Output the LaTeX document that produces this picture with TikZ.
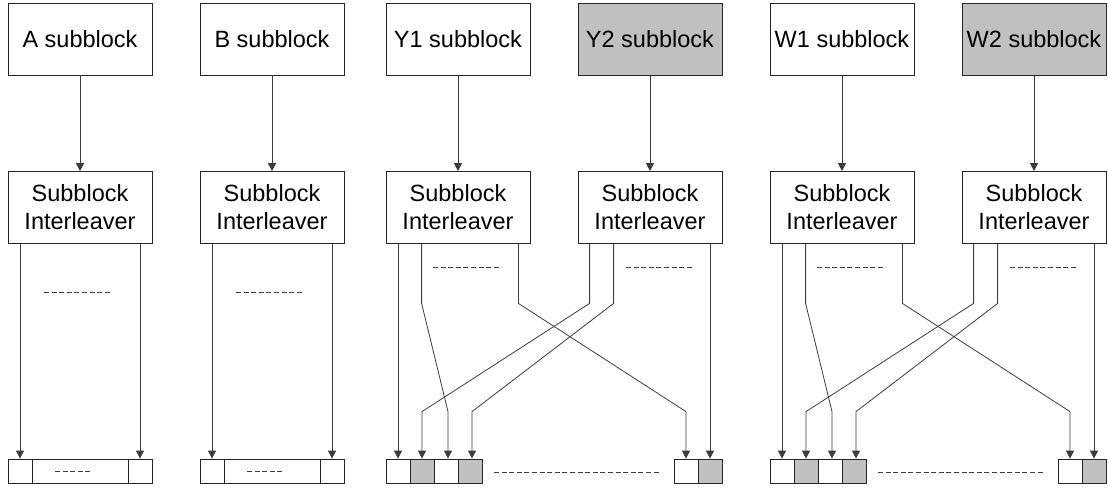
\documentclass[tikz,border=0pt]{standalone}
\usepackage{fontspec}
\setmainfont{Liberation Sans}
\usetikzlibrary{arrows.meta,calc}
\definecolor{cellgray}{RGB}{192,192,192}
\definecolor{wirecol}{RGB}{60,60,60}
\begin{document}
\begin{tikzpicture}[x=1pt,y=-1pt,
  box/.style={draw=black!85, line width=0.8pt, minimum width=144pt, minimum height=72pt,
              inner sep=0pt, align=center, font=\fontsize{23.5}{28}\selectfont},
  cell/.style={draw=black!85, line width=0.8pt, minimum width=24pt, minimum height=24pt, inner sep=0pt},
  gcell/.style={cell, fill=cellgray},
  wide/.style={cell, minimum width=96pt},
  wire/.style={draw=wirecol, line width=0.8pt, -{Triangle[width=8pt,length=8pt]}},
  dots/.style={draw=wirecol, line width=0.9pt, dash pattern=on 5pt off 2.6pt}
]
\useasboundingbox (0,0) rectangle (1108,488);

% ---- A and B paths: one interleaver each, plain output row
\foreach \g/\cx in {A/80,B/272} {
  \node[box] (\g top) at (\cx,39) {\g\ subblock};
  \node[box] (\g int) at (\cx,207.5) {Subblock\\Interleaver};
  \node[cell] (\g l) at (\cx-60,471) {};
  \node[wide] (\g m) at (\cx,471) {};
  \node[cell] (\g r) at (\cx+60,471) {};
  \draw[wire] (\g top) -- (\g int);
  \draw[wire] (\g int.south -| \g l.north) -- (\g l.north);
  \draw[wire] (\g int.south -| \g r.north) -- (\g r.north);
  \draw[dots] (\cx-36,292) -- (\cx+32,292);
  \draw[dots] (\cx-25,471) -- (\cx+12,471);
}

% ---- Y and W paths: two interleavers whose outputs are interlaced
\foreach \g/\ox in {Y/0,W/384} {
  \begin{scope}[xshift=\ox]
    \node[box] (\g1top) at (458,39) {\g1 subblock};
    \node[box, fill=cellgray] (\g2top) at (650,39) {\g2 subblock};
    \node[box] (\g1int) at (458,207.5) {Subblock\\Interleaver};
    \node[box] (\g2int) at (650,207.5) {Subblock\\Interleaver};

    \node[cell]  (\g c1) at (398,471) {};
    \node[gcell] (\g c2) at (422,471) {};
    \node[cell]  (\g c3) at (446,471) {};
    \node[gcell] (\g c4) at (470,471) {};
    \node[cell]  (\g c5) at (686,471) {};
    \node[gcell] (\g c6) at (710,471) {};

    \draw[wire] (\g1top) -- (\g1int);
    \draw[wire] (\g2top) -- (\g2int);

    % first interleaver outputs
    \draw[wire] (\g1int.south -| \g c1.north) -- (\g c1.north);
    \draw[wire] ($(\g1int.south west)+(36,0)$) -- ++(0,59.5)
                -- ($(\g c3.north)+(2,-47)$) -- ($(\g c3.north)+(2,0)$);
    \draw[wire] ($(\g1int.south east)+(-12,0)$) -- ++(0,59.5)
                -- ($(\g c5.north)+(0,-47)$) -- (\g c5.north);
    % second interleaver outputs
    \draw[wire] ($(\g2int.south west)+(12,0)$) -- ++(0,59.5)
                -- ($(\g c2.north)+(0,-47)$) -- (\g c2.north);
    \draw[wire] ($(\g2int.south west)+(36,0)$) -- ++(0,59.5)
                -- ($(\g c4.north)+(2,-47)$) -- ($(\g c4.north)+(2,0)$);
    \draw[wire] (\g2int.south -| \g c6.north) -- (\g c6.north);

    \draw[dots] (433,267) -- (501,267);
    \draw[dots] (626,267) -- (692,267);
    \draw[dots] (494,472) -- (660,472);
  \end{scope}
}
\end{tikzpicture}
\end{document}
